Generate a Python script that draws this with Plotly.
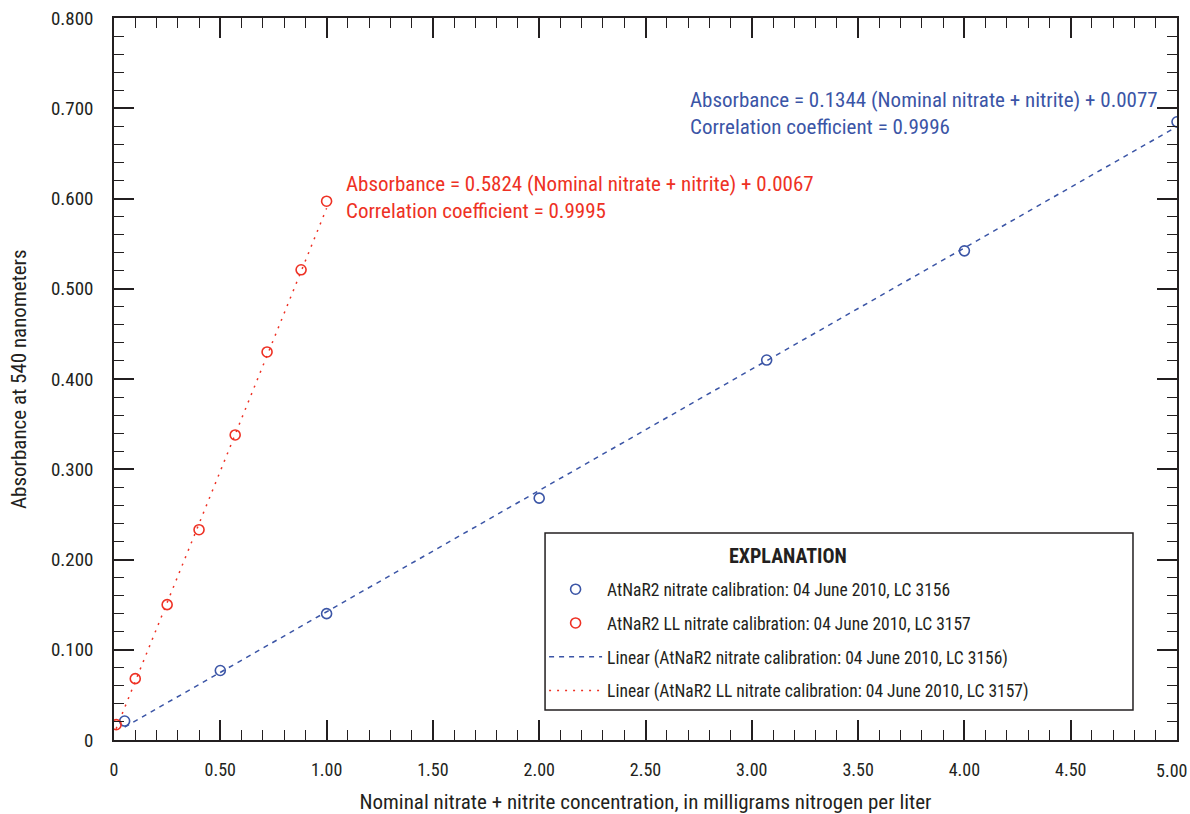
import plotly.graph_objects as go

# Data
blue_x = [0.05, 0.50, 1.00, 2.00, 3.07, 4.00, 5.00]
blue_y = [0.021, 0.077, 0.140, 0.268, 0.421, 0.542, 0.685]
red_x = [0.01, 0.10, 0.25, 0.40, 0.57, 0.72, 0.88, 1.00]
red_y = [0.017, 0.068, 0.150, 0.233, 0.338, 0.430, 0.521, 0.597]
blue_slope, blue_icpt = 0.1344, 0.0077
red_slope, red_icpt = 0.5824, 0.0067

x_tickvals = [0, 0.5, 1.0, 1.5, 2.0, 2.5, 3.0, 3.5, 4.0, 4.5, 5.0]
x_ticktext = ["0", "0.50", "1.00", "1.50", "2.00", "2.50", "3.00", "3.50", "4.00", "4.50", "5.00"]
y_tickvals = [0, 0.1, 0.2, 0.3, 0.4, 0.5, 0.6, 0.7, 0.8]
y_ticktext = ["0", "0.100", "0.200", "0.300", "0.400", "0.500", "0.600", "0.700", "0.800"]

names = ["AtNaR2 nitrate calibration: 04 June 2010, LC 3156",
         "AtNaR2 LL nitrate calibration: 04 June 2010, LC 3157",
         "Linear (AtNaR2 nitrate calibration: 04 June 2010, LC 3156)",
         "Linear (AtNaR2 LL nitrate calibration: 04 June 2010, LC 3157)"]

BLUE = "#3b55a6"
RED = "#ee3124"
INK = "#231f20"
FONT = "Liberation Sans Narrow, Arial Narrow, Roboto Condensed, sans-serif"

bx_line = [blue_x[0], blue_x[-1]]
by_line = [blue_slope * v + blue_icpt for v in bx_line]
rx_line = [red_x[0], red_x[-1]]
ry_line = [red_slope * v + red_icpt for v in rx_line]

# the last x label sits at the right edge of the page; it is drawn right-aligned as an annotation
x_alias = {f"{v:.2f}": t for v, t in zip(x_tickvals[:-1], x_ticktext[:-1])}
x_alias[f"{x_tickvals[-1]:.2f}"] = " "
y_alias = {f"{v:.3f}": t for v, t in zip(y_tickvals, y_ticktext)}

fig = go.Figure()
fig.add_trace(go.Scatter(x=bx_line, y=by_line, mode="lines", name=names[2], legendrank=3,
                         legendgroup="c", line=dict(color=BLUE, width=1.5, dash="5px,5px")))
fig.add_trace(go.Scatter(x=rx_line, y=ry_line, mode="lines", name=names[3], legendrank=4,
                         legendgroup="d", line=dict(color=RED, width=1.5, dash="2px,6px")))
fig.add_trace(go.Scatter(x=blue_x, y=blue_y, mode="markers", name=names[0], legendrank=1,
                         legendgroup="a",
                         marker=dict(symbol="circle-open", size=10, color=BLUE, line=dict(width=1.6))))
fig.add_trace(go.Scatter(x=red_x, y=red_y, mode="markers", name=names[1], legendrank=2,
                         legendgroup="b",
                         marker=dict(symbol="circle-open", size=10, color=RED, line=dict(width=1.6))))

axis_common = dict(showline=True, linecolor=INK, linewidth=1.5, mirror="ticks",
                   ticks="inside", tickcolor=INK, tickwidth=1.5, ticklen=20,
                   showgrid=False, zeroline=False, automargin=False,
                   ticklabeloverflow="allow")

fig.update_xaxes(range=[0, 5.0], tickmode="linear", tick0=0, dtick=0.5, tickformat=".2f",
                 labelalias=x_alias,
                 minor=dict(ticks="inside", ticklen=10, dtick=0.1, tickcolor=INK, tickwidth=1.2),
                 tickfont=dict(family=FONT, size=18, color=INK),
                 title=dict(text="Nominal nitrate + nitrite concentration, in milligrams nitrogen per liter",
                            font=dict(family=FONT, size=21, color=INK), standoff=17),
                 ticklabelstandoff=13,
                 **axis_common)
fig.update_yaxes(range=[0, 0.8], tickmode="linear", tick0=0, dtick=0.1, tickformat=".3f",
                 labelalias=y_alias,
                 minor=dict(ticks="inside", ticklen=10, dtick=0.02, tickcolor=INK, tickwidth=1.2),
                 tickfont=dict(family=FONT, size=19, color=INK),
                 ticklabelstandoff=15,
                 **axis_common)

# last x tick label
fig.add_annotation(text=x_ticktext[-1], x=x_tickvals[-1], xref="x", y=0, yref="paper",
                   xanchor="right", yanchor="top", xshift=12, yshift=-18, showarrow=False,
                   font=dict(family=FONT, size=18, color=INK))

# y axis title
fig.add_annotation(text="Absorbance at 540 nanometers", xref="paper", yref="paper", x=0, y=0.5,
                   xshift=-95, textangle=-90, xanchor="center", yanchor="middle", showarrow=False,
                   font=dict(family=FONT, size=21, color=INK))

# Legend box
fig.add_shape(type="rect", xref="paper", yref="paper", x0=0.4055, x1=0.9586, y0=0.0416, y1=0.2867,
              line=dict(color=INK, width=1.5), fillcolor="white", layer="above")
fig.add_annotation(text="<b>EXPLANATION</b>", xref="paper", yref="paper", x=0.634, y=0.2555,
                   showarrow=False, font=dict(family=FONT, size=20, color=INK),
                   xanchor="center", yanchor="middle")

fig.add_annotation(text="Absorbance = 0.5824 (Nominal nitrate + nitrite) + 0.0067<br>Correlation coefficient = 0.9995",
                   x=1.08, y=0.601, xanchor="left", yanchor="middle", showarrow=False, align="left",
                   font=dict(family=FONT, size=21, color=RED))
fig.add_annotation(text="Absorbance = 0.1344 (Nominal nitrate + nitrite) + 0.0077<br>Correlation coefficient = 0.9996",
                   x=2.70, y=0.6937, xanchor="left", yanchor="middle", showarrow=False, align="left",
                   font=dict(family=FONT, size=21, color=BLUE))

fig.update_layout(
    width=1190, height=814,
    margin=dict(l=114, r=13, t=18, b=74),
    plot_bgcolor="white", paper_bgcolor="white",
    showlegend=True,
    legend=dict(x=0.4046, y=0.2336, xanchor="left", yanchor="top",
                bgcolor="rgba(0,0,0,0)", borderwidth=0,
                traceorder="grouped", tracegroupgap=8, itemwidth=53,
                font=dict(family=FONT, size=17.5, color=INK)),
)

fig.write_html("out.html")
